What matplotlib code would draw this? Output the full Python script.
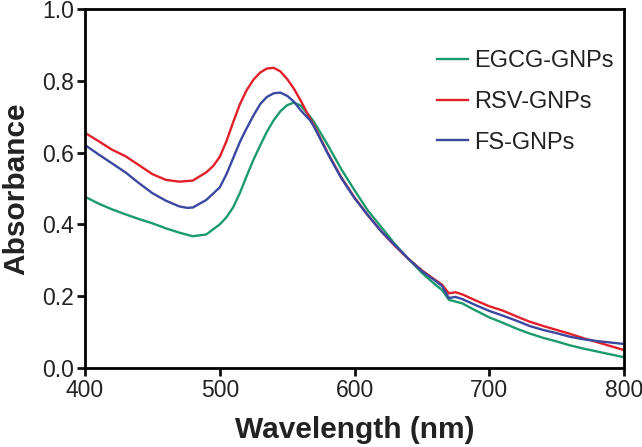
import matplotlib
matplotlib.use("Agg")
import matplotlib.pyplot as plt

plt.rcParams['font.family'] = ['Liberation Sans', 'DejaVu Sans']

# wavelength (nm) and absorbance
wl_egcg = [400, 410, 420, 430, 440, 450, 460, 470, 480, 490, 500, 505, 510, 515, 520,
           525, 530, 535, 540, 545, 550, 555, 560, 567, 570, 580, 590, 600, 610, 620,
           630, 640, 650, 660, 665, 670, 675, 680, 690, 700, 710, 720, 730, 740, 750,
           760, 770, 780, 790, 800]
abs_egcg = [0.477, 0.458, 0.442, 0.428, 0.415, 0.403, 0.389, 0.377, 0.367, 0.372, 0.400,
            0.420, 0.448, 0.488, 0.535, 0.580, 0.620, 0.658, 0.690, 0.715, 0.732, 0.739,
            0.731, 0.700, 0.685, 0.622, 0.555, 0.495, 0.438, 0.392, 0.345, 0.304, 0.265,
            0.232, 0.217, 0.190, 0.185, 0.180, 0.160, 0.141, 0.126, 0.110, 0.096, 0.084,
            0.074, 0.063, 0.054, 0.046, 0.038, 0.030]

wl_rsv = [400, 410, 420, 430, 440, 450, 460, 470, 480, 490, 495, 500, 505, 510, 515,
          520, 525, 530, 535, 540, 545, 550, 555, 560, 567, 570, 580, 590, 600, 610,
          620, 630, 640, 650, 660, 665, 670, 675, 680, 690, 700, 710, 720, 730, 740,
          750, 760, 770, 780, 790, 800]
abs_rsv = [0.655, 0.632, 0.608, 0.590, 0.565, 0.540, 0.524, 0.519, 0.522, 0.545, 0.562,
           0.588, 0.632, 0.685, 0.735, 0.774, 0.803, 0.823, 0.834, 0.836, 0.826, 0.805,
           0.778, 0.745, 0.695, 0.675, 0.600, 0.532, 0.475, 0.425, 0.380, 0.340, 0.304,
           0.272, 0.245, 0.232, 0.208, 0.211, 0.205, 0.188, 0.172, 0.160, 0.144, 0.129,
           0.117, 0.106, 0.095, 0.083, 0.072, 0.061, 0.050]

wl_fs = [400, 410, 420, 430, 440, 450, 460, 470, 476, 480, 490, 500, 505, 510, 515,
         520, 525, 530, 535, 540, 545, 550, 555, 560, 567, 570, 580, 590, 600, 610,
         620, 630, 640, 650, 660, 665, 670, 675, 680, 690, 700, 710, 720, 730, 740,
         750, 760, 770, 780, 790, 800]
abs_fs = [0.621, 0.595, 0.570, 0.545, 0.515, 0.487, 0.466, 0.450, 0.446, 0.447, 0.468,
          0.503, 0.540, 0.585, 0.630, 0.668, 0.703, 0.735, 0.755, 0.765, 0.767, 0.758,
          0.742, 0.718, 0.690, 0.672, 0.598, 0.530, 0.473, 0.425, 0.380, 0.342, 0.304,
          0.270, 0.243, 0.228, 0.195, 0.198, 0.192, 0.175, 0.159, 0.146, 0.132, 0.117,
          0.106, 0.097, 0.087, 0.080, 0.075, 0.071, 0.067]

fig = plt.figure(figsize=(6.42, 4.47), dpi=100)
ax = fig.add_axes([0.1324, 0.1767, 0.8396, 0.8033])

ax.plot(wl_egcg, abs_egcg, color='#1b9b6c', lw=1.7, label='EGCG-GNPs')
ax.plot(wl_rsv, abs_rsv, color='#e2202a', lw=1.7, label='RSV-GNPs')
ax.plot(wl_fs, abs_fs, color='#3a48a0', lw=1.7, label='FS-GNPs')

ax.set_xlim(400, 800)
ax.set_ylim(0, 1.0)
ax.set_xticks([400, 500, 600, 700, 800])
ax.set_yticks([0.0, 0.2, 0.4, 0.6, 0.8, 1.0])
ax.set_yticklabels(['0.0', '0.2', '0.4', '0.6', '0.8', '1.0'])
for s in ax.spines.values():
    s.set_linewidth(2)
ax.tick_params(direction='out', length=5.5, width=2, labelsize=16.5, pad=2.5,
               colors='#111111', labelcolor='#222222')

ax.set_xlabel('Wavelength (nm)', fontsize=21.5, fontweight='bold', labelpad=10,
              color='#222222')
ax.set_ylabel('Absorbance', fontsize=21.5, fontweight='bold', labelpad=8.5,
              color='#222222')

ax.legend(loc='upper left', bbox_to_anchor=(0.6145, 0.945), frameon=False,
          fontsize=17, handlelength=1.3, handletextpad=0.25, labelspacing=0.8,
          labelcolor='#222222')

fig.savefig('out.png', dpi=100)
